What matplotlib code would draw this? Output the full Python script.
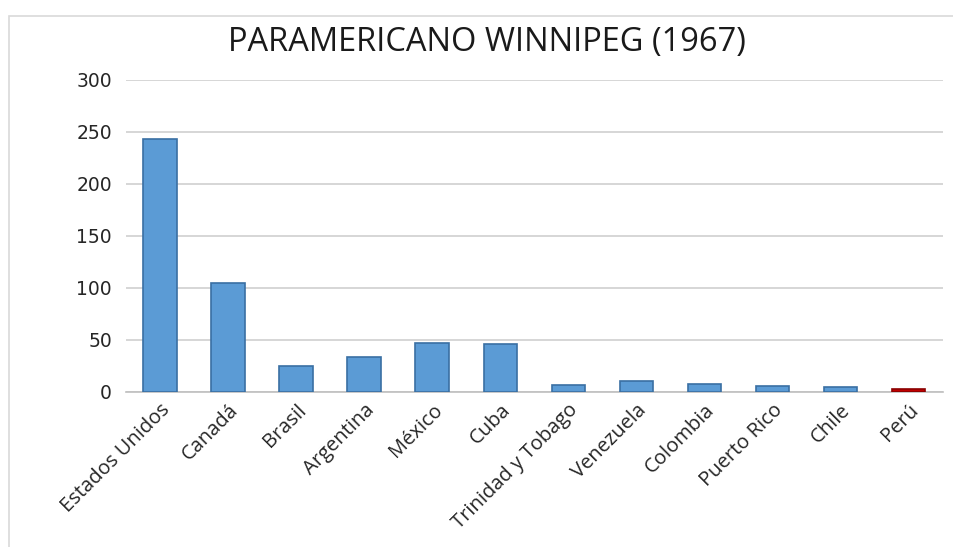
import matplotlib
matplotlib.use("Agg")
import matplotlib.pyplot as plt
from matplotlib.patches import Rectangle

paises = ["Estados Unidos", "Canadá", "Brasil", "Argentina", "México", "Cuba",
          "Trinidad y Tobago", "Venezuela", "Colombia", "Puerto Rico", "Chile", "Perú"]
medallas = [243, 105, 25, 33, 47, 46, 6, 10, 7, 5, 4, 3]
yticks = [0, 50, 100, 150, 200, 250, 300]

azul = "#5B9BD5"
rojo = "#C00000"
colores = [rojo if p == "Perú" else azul for p in paises]
bordes = ["#8B0000" if p == "Perú" else "#3A6FA3" for p in paises]

fig = plt.figure(figsize=(9.54, 5.47), dpi=100)
ax = fig.add_axes([0.132, 0.284, 0.856, 0.570])

x = range(len(paises))
ax.bar(x, medallas, width=0.49, color=colores, edgecolor=bordes, linewidth=1.2, zorder=3)

ax.set_ylim(0, 300)
ax.set_xlim(-0.5, len(paises) - 0.5)
ax.set_yticks(yticks)
ax.yaxis.grid(True, color="#D0D0D0", linewidth=1.2, zorder=0)
ax.set_axisbelow(True)
for s in ["top", "right", "left"]:
    ax.spines[s].set_visible(False)
ax.spines["bottom"].set_color("#BFBFBF")
ax.spines["bottom"].set_linewidth(1.2)
ax.tick_params(axis="both", length=0, colors="#262626")
ax.tick_params(axis="y", pad=10, labelsize=13.5)
ax.tick_params(axis="x", pad=6)

ax.set_xticks(list(x))
ax.set_xticklabels(paises, rotation=45, ha="right", rotation_mode="anchor",
                   fontsize=14.5, fontfamily="Open Sans")

fig.suptitle("PARAMERICANO WINNIPEG (1967)", x=0.51, y=0.952, fontsize=23.5,
             fontfamily="Open Sans", color="#1a1a1a")

# borde del area del grafico
fig.patches.append(Rectangle((0.009, -0.01), 1.1, 0.981, transform=fig.transFigure,
                             fill=False, edgecolor="#D9D9D9", linewidth=1.2))

fig.savefig("out.png", dpi=100, facecolor="white")
